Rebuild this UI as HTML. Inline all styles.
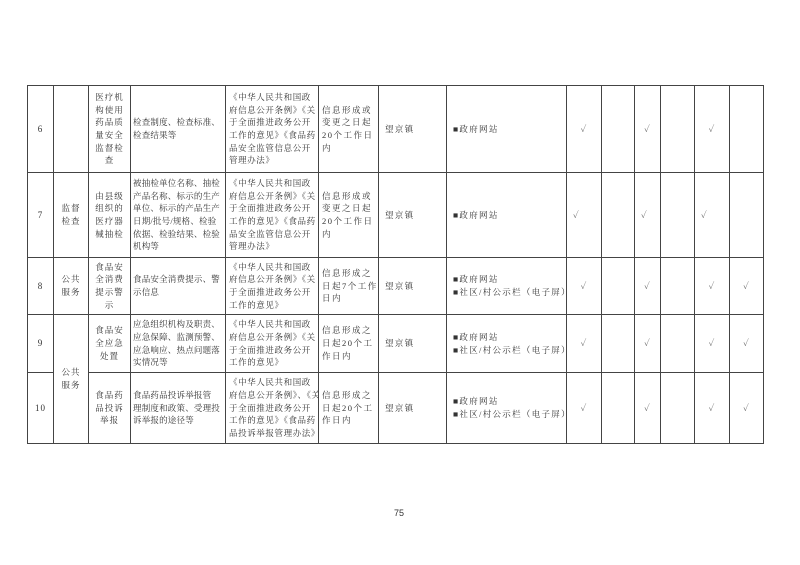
<!DOCTYPE html>
<html><head><meta charset="utf-8"><style>
body{margin:0;width:800px;height:565px;background:#fff;position:relative;overflow:hidden;font-family:"Liberation Serif","Noto Serif CJK SC","Noto Sans CJK SC",serif;color:#333}
table{position:absolute;left:27px;top:85px;border-collapse:collapse;table-layout:fixed;width:736px}
td{border:1.3px solid #444;padding:0 2px;font-size:8.5px;line-height:12.7px;vertical-align:middle;white-space:nowrap;overflow:hidden;letter-spacing:1px}
.c{text-align:center}
.d{letter-spacing:0.2px}
.e{letter-spacing:0.6px;padding-left:3px}
.f{letter-spacing:1.5px;padding-left:3px}
.g{padding-left:6px;letter-spacing:1.3px}
.ck{text-align:center;font-size:9px;color:#666}
.ckl{text-align:left;font-size:9px;color:#666;padding-left:6px}
.n{text-align:center;font-size:9px}
.pn{position:absolute;left:394px;top:508px;font-family:"Liberation Sans",sans-serif;font-size:9px;color:#333}
</style></head><body>
<table>
<colgroup><col style="width:26px"><col style="width:35px"><col style="width:42px"><col style="width:95px"><col style="width:93px"><col style="width:60px"><col style="width:68px"><col style="width:120px"><col style="width:35px"><col style="width:33px"><col style="width:26px"><col style="width:34px"><col style="width:35px"><col style="width:34px"></colgroup>
<tr style="height:87px"><td class="n">6</td><td></td><td class="c">医疗机<br>构使用<br>药品质<br>量安全<br>监督检<br>查</td><td class="d">检查制度、检查标准、<br>检查结果等</td><td class="e">《中华人民共和国政<br>府信息公开条例》《关<br>于全面推进政务公开<br>工作的意见》《食品药<br>品安全监管信息公开<br>管理办法》</td><td class="f">信息形成或<br>变更之日起<br>20个工作日<br>内</td><td class="g">望京镇</td><td class="g">■政府网站</td><td class="ck">✓</td><td></td><td class="ck">✓</td><td></td><td class="ck">✓</td><td></td></tr>
<tr style="height:85px"><td class="n">7</td><td class="c">监督<br>检查</td><td class="c">由县级<br>组织的<br>医疗器<br>械抽检</td><td class="d">被抽检单位名称、抽检<br>产品名称、标示的生产<br>单位、标示的产品生产<br>日期/批号/规格、检验<br>依据、检验结果、检验<br>机构等</td><td class="e">《中华人民共和国政<br>府信息公开条例》《关<br>于全面推进政务公开<br>工作的意见》《食品药<br>品安全监管信息公开<br>管理办法》</td><td class="f">信息形成或<br>变更之日起<br>20个工作日<br>内</td><td class="g">望京镇</td><td class="g">■政府网站</td><td class="ckl">✓</td><td></td><td class="ckl">✓</td><td></td><td class="ckl">✓</td><td></td></tr>
<tr style="height:57px"><td class="n">8</td><td class="c">公共<br>服务</td><td class="c">食品安<br>全消费<br>提示警<br>示</td><td class="d">食品安全消费提示、警<br>示信息</td><td class="e">《中华人民共和国政<br>府信息公开条例》《关<br>于全面推进政务公开<br>工作的意见》</td><td class="f">信息形成之<br>日起7个工作<br>日内</td><td class="g">望京镇</td><td class="g">■政府网站<br>■社区/村公示栏（电子屏）</td><td class="ck">✓</td><td></td><td class="ck">✓</td><td></td><td class="ck">✓</td><td class="ck">✓</td></tr>
<tr style="height:58px"><td class="n">9</td><td class="c" rowspan="2">公共<br>服务</td><td class="c">食品安<br>全应急<br>处置</td><td class="d">应急组织机构及职责、<br>应急保障、监测预警、<br>应急响应、热点问题落<br>实情况等</td><td class="e">《中华人民共和国政<br>府信息公开条例》《关<br>于全面推进政务公开<br>工作的意见》</td><td class="f">信息形成之<br>日起20个工<br>作日内</td><td class="g">望京镇</td><td class="g">■政府网站<br>■社区/村公示栏（电子屏）</td><td class="ck">✓</td><td></td><td class="ck">✓</td><td></td><td class="ck">✓</td><td class="ck">✓</td></tr>
<tr style="height:71px"><td class="n">10</td><td class="c">食品药<br>品投诉<br>举报</td><td class="d">食品药品投诉举报管<br>理制度和政策、受理投<br>诉举报的途径等</td><td class="e">《中华人民共和国政<br>府信息公开条例》、《关<br>于全面推进政务公开<br>工作的意见》《食品药<br>品投诉举报管理办法》</td><td class="f">信息形成之<br>日起20个工<br>作日内</td><td class="g">望京镇</td><td class="g">■政府网站<br>■社区/村公示栏（电子屏）</td><td class="ck">✓</td><td></td><td class="ck">✓</td><td></td><td class="ck">✓</td><td class="ck">✓</td></tr>
</table>
<div class="pn">75</div>
</body></html>
